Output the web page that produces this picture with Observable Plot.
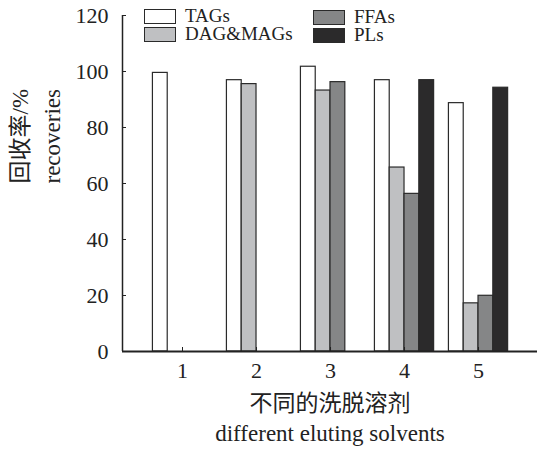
<!DOCTYPE html>
<html>
<head>
<meta charset="utf-8">
<script src="https://cdn.jsdelivr.net/npm/d3@7"></script>
<script src="https://cdn.jsdelivr.net/npm/@observablehq/plot@0.6"></script>
<style>
  body { margin: 0; background: #fff; }
  #wrap { position: relative; width: 537px; height: 452px; font-family: "Liberation Serif", "Noto Sans CJK SC", serif; color: #222; }
  .lg { position: absolute; display: flex; align-items: center; font-size: 19px; line-height: 16px; height: 16px; }
  .sw { width: 30px; height: 13px; border: 1px solid #2a2a2a; margin-right: 9px; }
</style>
</head>
<body>
<div id="wrap"></div>
<script>
const groups = [1, 2, 3, 4, 5];
const series = ["TAGs", "DAG&MAGs", "FFAs", "PLs"];
const colors = ["#ffffff", "#bfc0c2", "#858687", "#2b2a2b"];
const TAGs = [99.5, 96.9, 101.7, 96.9, 88.7];
const DAGMAGs = [null, 95.5, 93.2, 65.7, 17.2];
const FFAs = [null, null, 96.2, 56.3, 19.9];
const PLs = [null, null, null, 96.9, 94.2];
const yTicks = [0, 20, 40, 60, 80, 100, 120];
const yLabelZh = "回收率/%";
const yLabelEn = "recoveries";
const xLabelZh = "不同的洗脱溶剂";
const xLabelEn = "different eluting solvents";

const barW = 0.2;
const valuesBySeries = [TAGs, DAGMAGs, FFAs, PLs];
const data = [];
series.forEach((s, si) => {
  groups.forEach((g, gi) => {
    const v = valuesBySeries[si][gi];
    if (v != null) data.push({group: g, series: s, value: v, x1: g + (si - 2) * barW, x2: g + (si - 1) * barW});
  });
});

const font = '"Liberation Serif", "Noto Sans CJK SC", serif';
const chart = Plot.plot({
  width: 537,
  height: 452,
  marginLeft: 122,
  marginRight: 0,
  marginTop: 15,
  marginBottom: 101,
  style: {fontFamily: font, fontSize: "22px", color: "#222", background: "#fff"},
  x: {domain: [0.189, 5.797], ticks: groups},
  y: {domain: [0, 120], ticks: yTicks},
  color: {domain: series, range: colors},
  marks: [
    Plot.rectY(data, {x1: "x1", x2: "x2", y: "value", fill: "series", stroke: "#2a2a2a", strokeWidth: 1.2}),
    Plot.ruleY([0], {stroke: "#222", strokeWidth: 2}),
    Plot.ruleX([0.189], {stroke: "#222", strokeWidth: 1.5}),
    Plot.axisY({ticks: yTicks, tickSize: -4, tickPadding: 18, tickFormat: d => String(d), label: null, stroke: "#222", fontSize: 22}),
    Plot.axisX({ticks: groups, tickSize: -4, tickPadding: 15, tickFormat: d => String(d), label: null, stroke: "#222", fontSize: 22}),
    Plot.text([xLabelZh], {frameAnchor: "bottom", dy: 59, fontSize: 23, fill: "#222"}),
    Plot.text([xLabelEn], {frameAnchor: "bottom", dy: 89, fontSize: 23, fill: "#222"}),
    Plot.text([yLabelZh], {frameAnchor: "left", dx: -102, rotate: -90, fontSize: 23, fill: "#222"}),
    Plot.text([yLabelEn], {frameAnchor: "left", dx: -70, rotate: -90, fontSize: 23, fill: "#222"})
  ]
});
const wrap = document.getElementById("wrap");
wrap.appendChild(chart);

const legendPos = [[144, 8], [144, 26], [313, 9], [313, 27]];
series.forEach((s, i) => {
  const d = document.createElement("div");
  d.className = "lg";
  d.style.left = legendPos[i][0] + "px";
  d.style.top = legendPos[i][1] + "px";
  const sw = document.createElement("div");
  sw.className = "sw";
  sw.style.background = colors[i];
  const t = document.createElement("span");
  t.textContent = s;
  d.appendChild(sw);
  d.appendChild(t);
  wrap.appendChild(d);
});
</script>
</body>
</html>
